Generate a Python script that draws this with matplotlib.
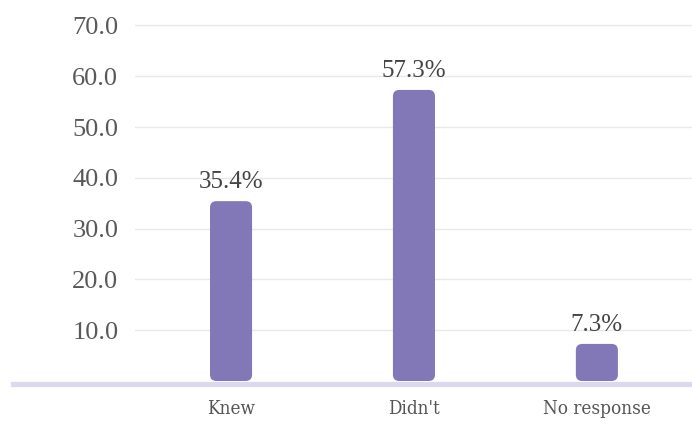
import matplotlib
matplotlib.use("Agg")
from matplotlib import pyplot as plt
from matplotlib.lines import Line2D
from matplotlib.patches import FancyBboxPatch

categories = ["Knew", "Didn't", "No response"]
values = [35.4, 57.3, 7.3]
labels = ["35.4%", "57.3%", "7.3%"]
yticks = [10, 20, 30, 40, 50, 60, 70]

bar_color = "#8278b7"
text_color = "#444444"

plt.rcParams["font.family"] = ["Liberation Serif", "DejaVu Serif"]

fig = plt.figure(figsize=(6.92, 4.26), dpi=100)
ax = fig.add_axes([135 / 692, 45 / 426, 557 / 692, 381 / 426])

bars = ax.bar(range(len(categories)), values, width=0.23, color=bar_color, zorder=2)
# swap plain bars for ones with rounded tops
for b in bars:
    b.set_visible(False)
    r = FancyBboxPatch((b.get_x(), b.get_y()), b.get_width(), b.get_height(),
                       boxstyle="round,pad=0,rounding_size=0.035",
                       mutation_aspect=75 / 3.05 * 557 / 381,
                       facecolor=bar_color, edgecolor="none", zorder=2)
    ax.add_patch(r)

for i, (v, lab) in enumerate(zip(values, labels)):
    ax.annotate(lab, (i, v), xytext=(0, 6), textcoords="offset points",
                ha="center", va="bottom", fontsize=18, color=text_color)

ax.set_xlim(-0.525, 2.52)
ax.set_ylim(0, 75)
ax.set_yticks(yticks)
ax.set_yticklabels([f"{t:.1f}" for t in yticks], fontsize=19, color="#595959")
ax.set_xticks(range(len(categories)))
ax.set_xticklabels(categories, family=["DejaVu Serif"], fontstretch="condensed",
                   fontsize=13.5, color="#555555")
ax.tick_params(axis="both", length=0)
ax.tick_params(axis="y", pad=12)
ax.tick_params(axis="x", pad=14)
ax.yaxis.grid(True, color="#e9e9e9", linewidth=1, zorder=0)
for s in ax.spines.values():
    s.set_visible(False)

fig.add_artist(Line2D([13 / 692, 1], [42.5 / 426, 42.5 / 426], color="#dcd8ee",
                      linewidth=3.8, transform=fig.transFigure))

fig.savefig("out.png", dpi=100)
